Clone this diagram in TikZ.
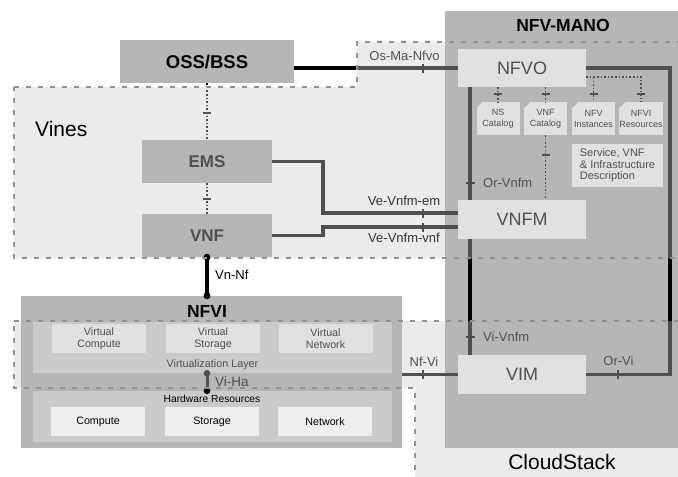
\documentclass[tikz,border=0pt]{standalone}
\usepackage{fontspec}
\setmainfont{Liberation Sans}

\definecolor{boxgrey}{RGB}{182,182,182}
\definecolor{layergrey}{RGB}{203,203,203}
\definecolor{palegrey}{RGB}{225,225,225}
\definecolor{hwgrey}{RGB}{238,238,238}
\definecolor{zonegrey}{RGB}{235,235,235}
\definecolor{dashgrey}{RGB}{145,145,145}
\definecolor{inkgrey}{RGB}{80,80,80}

\newcommand{\fsz}[1]{\fontsize{#1}{#1}\selectfont}

\tikzset{
  block/.style={fill=boxgrey,inner sep=0pt},
  func/.style={fill=palegrey,inner sep=0pt,minimum width=128pt,minimum height=39pt,text=inkgrey,font=\fsz{18}},
  catalog/.style={fill=palegrey,inner sep=0pt,minimum width=43pt,minimum height=33pt,align=center,
    text=inkgrey,font=\fontsize{9}{11}\selectfont,
    path picture={\fill[boxgrey] (path picture bounding box.north west) -- ++(6pt,0) -- ++(-6pt,-6pt) -- cycle;}},
  layer/.style={fill=layergrey,inner sep=0pt,minimum width=359pt,minimum height=51pt},
  res/.style={inner sep=0pt,minimum width=94pt,minimum height=29pt,align=center,font=\fontsize{10.7}{11.7}\selectfont},
  link/.style={line width=3.5pt,draw=inkgrey},
  dotlink/.style={line width=1.6pt,draw=inkgrey,dotted},
  tick/.style={fill=inkgrey,inner sep=0pt,minimum width=2pt,minimum height=9pt},
  vtick/.style={fill=inkgrey,inner sep=0pt,minimum width=9pt,minimum height=2pt},
  dtick/.style={fill=inkgrey,inner sep=0pt,minimum width=8pt,minimum height=1.2pt},
  ifc/.style={inner sep=0pt,text=inkgrey,font=\fsz{13}},
  zone/.style={draw=dashgrey,line width=1.5pt,dash pattern=on 5pt off 7pt}
}

\begin{document}
\begin{tikzpicture}[x=1pt,y=-1pt]
  \useasboundingbox (0,0) rectangle (678,477);
  %% shaded zones
  \fill[zonegrey] (14,87) -- (357,87) -- (357,42) -- (682,42) -- (682,258) -- (14,258) -- cycle;
  \fill[zonegrey] (14,321) -- (682,321) -- (682,480) -- (415,480) -- (415,388) -- (14,388) -- cycle;

  %% management and orchestration
  \node[block,minimum width=236pt,minimum height=437pt] (MANO) at (563,229.5) {};
  \node[font=\bfseries\fsz{17.5}] (manotitle) at (563,25) {NFV-MANO};
  \node[func,minimum height=38pt] (NFVO) at (522,68) {NFVO};
  \node[func] (VIM) at (522,374.5) {VIM};
  \node[catalog] (nscat) at (498,118.5) {NS\\Catalog};
  \node[catalog] (vnfcat) at (545.5,118.5) {VNF\\Catalog};
  \node[catalog] (nfvinst) at (593.5,118.5) {NFV\\Instances};
  \node[catalog] (nfvires) at (641,118.5) {NFVI\\Resources};
  \node[fill=palegrey,text=inkgrey,inner sep=0pt,minimum width=91pt,minimum height=43pt,
    align=left,font=\fontsize{11}{11.5}\selectfont] (descr) at (617.5,165.5) {Service, VNF\\\& Infrastructure\\Description};
  \draw[link] ([xshift=12pt]NFVO.south west) -- ([xshift=12pt]VIM.north west);
  \draw[link] (NFVO.east) -- ++(84,0) |- (VIM.east);
  \node[func] (VNFM) at (522,219.5) {VNFM};

  %% repositories
  \coordinate (dj) at ([yshift=-9pt]NFVO.east);
  \draw[dotlink] (dj) -| (nfvires.north);
  \draw[dotlink] (nfvinst.north |- dj) -- (nfvinst.north);
  \draw[dotlink] (nscat.north |- NFVO.south) -- (nscat.north);
  \draw[dotlink] (vnfcat.north |- NFVO.south) -- (vnfcat.north);
  \draw[dotlink] (vnfcat.south) -- (vnfcat.south |- VNFM.north);
  \foreach \c in {nscat,vnfcat,nfvinst,nfvires}
    \node[dtick] (t-\c) at (\c.north |- 0,94) {};
  \node[dtick] (t-vcat) at (vnfcat.south |- 0,155) {};

  %% element management and network function
  \node[block,minimum width=174pt,minimum height=43pt,font=\bfseries\fsz{18.5}] (OSS) at (207,61.5) {OSS/BSS};
  \node[block,minimum width=130pt,minimum height=43pt,text=inkgrey,font=\bfseries\fsz{17}] (EMS) at (207,161.5) {EMS};
  \node[block,minimum width=130pt,minimum height=43pt,text=inkgrey,font=\bfseries\fsz{17}] (VNF) at (207,235.5) {VNF};
  \draw[link] (OSS.east |- NFVO.west) -- (NFVO.west);
  \draw[dotlink] (OSS.south) -- (EMS.north);
  \draw[dotlink] (EMS.south) -- (VNF.north);
  \draw[link] (EMS.east) -- ++(51,0) |- ([yshift=6.5pt]VNFM.west);
  \draw[link] (VNF.east) -- ++(51,0) |- ([yshift=-7.5pt]VNFM.west);

  %% infrastructure
  \node[block,minimum width=381pt,minimum height=152pt] (NFVI) at (211.5,372) {};
  \node[font=\bfseries\fsz{17.5}] (nfvititle) at (207,311) {NFVI};
  \node[layer] (virt) at (212.5,347.5) {};
  \node[res,fill=palegrey,text=inkgrey] (vcomp) at (99,338.5) {Virtual\\Compute};
  \node[res,fill=palegrey,text=inkgrey] (vstor) at (213,338.5) {Virtual\\Storage};
  \node[res,fill=palegrey,text=inkgrey] (vnet) at (325.5,338.5) {Virtual\\Network};
  \node[text=inkgrey,font=\fsz{10.8},anchor=base,inner sep=0pt] (virtlbl) at (212.5,367) {Virtualization Layer};
  \node[layer] (hw) at (212.5,416.5) {};
  \node[font=\fsz{10.3},inner sep=0pt] (hwlbl) at (212,399) {Hardware Resources};
  \node[res,fill=hwgrey] (comp) at (98,421.5) {Compute};
  \node[res,fill=hwgrey] (stor) at (212,421.5) {Storage};
  \node[res,fill=hwgrey] (net) at (325,421.5) {Network};
  \draw[link,draw=black] (VNF.south) -- (VNF.south |- NFVI.north);
  \fill (VNF.south) circle (3.5pt) (VNF.south |- NFVI.north) circle (3.5pt);
  \draw[link,line width=3pt] (VNF.south |- virt.south) -- (VNF.south |- hw.north);
  \fill[inkgrey] (VNF.south |- virt.south) circle (3.3pt);
  \fill (VNF.south |- hw.north) circle (3.3pt);
  \draw[link] (NFVI.east |- VIM.west) -- (VIM.west);

  %% ticks
  \node[tick] (t-osma) at (423,68) {};
  \node[tick] (t-vem) at (423,213) {};
  \node[tick] (t-vvnf) at (423,227) {};
  \node[tick] (t-nfvi) at (423,374.5) {};
  \node[tick] (t-orvi) at (618,374.5) {};
  \node[vtick] (t-orvnfm) at (470,183) {};
  \node[vtick] (t-vivnfm) at (470,337) {};
  \node[dtick] (t-oe) at (207,113) {};
  \node[dtick] (t-ev) at (207,199) {};

  %% reference point names
  \node[ifc] (l-osma) at (404.5,56) {Os-Ma-Nfvo};
  \node[ifc,text=black!80] (l-vem) at (404,201) {Ve-Vnfm-em};
  \node[ifc,text=black!80] (l-vvnf) at (404,238) {Ve-Vnfm-vnf};
  \node[ifc,anchor=west] (l-orvnfm) at (483,183) {Or-Vnfm};
  \node[ifc,anchor=west] (l-vivnfm) at (483,337) {Vi-Vnfm};
  \node[ifc] (l-nfvi) at (424,362) {Nf-Vi};
  \node[ifc] (l-orvi) at (618.5,361) {Or-Vi};
  \node[ifc,text=black,anchor=west] (l-vnnf) at (215,275) {Vn-Nf};
  \node[ifc,anchor=west,font=\fsz{13.5}] (l-viha) at (215,382) {Vi-Ha};

  %% links outside the zones are black
  \begin{scope}
    \clip (0,0) rectangle (357,87) (357,0) rectangle (682,42) (0,258) rectangle (682,321) (0,388) rectangle (415,480);
    \draw[link,draw=black] (OSS.east |- NFVO.west) -- (NFVO.west);
    \draw[link,draw=black] ([xshift=12pt]NFVO.south west) -- ([xshift=12pt]VIM.north west);
    \draw[link,draw=black] (NFVO.east) -- ++(84,0) |- (VIM.east);
    \draw[dotlink,draw=black] (OSS.south) -- (EMS.north);
  \end{scope}

  %% zone borders
  \draw[zone] (14,87) -- (357,87) -- (357,42) -- (682,42) -- (682,258) -- (14,258) -- cycle;
  \draw[zone] (14,321) -- (682,321) -- (682,480) -- (415,480) -- (415,388) -- (14,388) -- cycle;
  \node[font=\fsz{21},anchor=west,inner sep=0pt] (vines) at (35,129) {Vines};
  \node[font=\fsz{21},inner sep=0pt] (cloudstack) at (562,461.5) {CloudStack};
\end{tikzpicture}
\end{document}
